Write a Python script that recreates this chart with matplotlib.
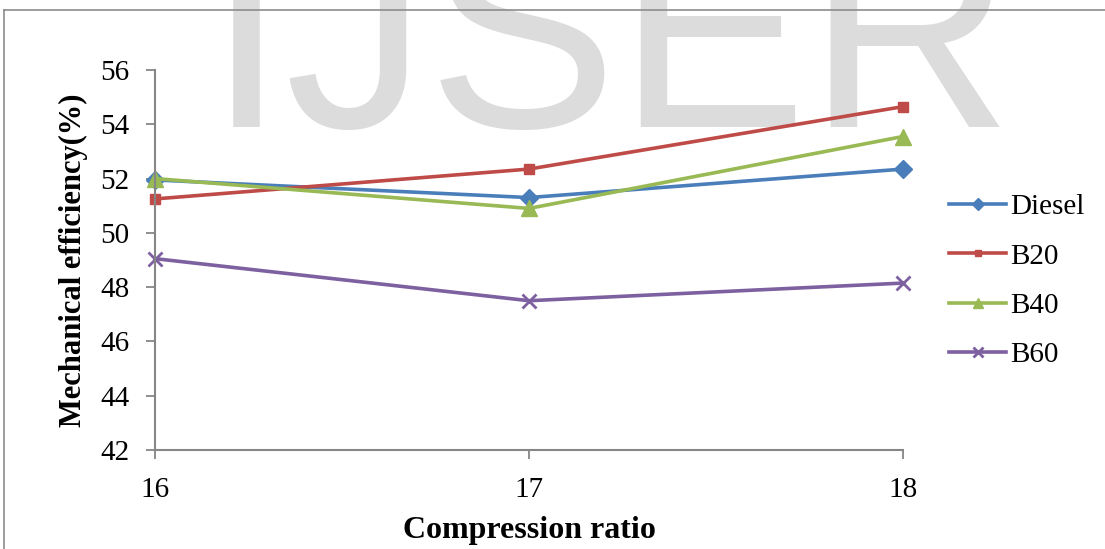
import matplotlib
matplotlib.use("Agg")
import matplotlib.pyplot as plt
from matplotlib.lines import Line2D

# ---- data ----
compression_ratio = [16, 17, 18]
diesel = [51.95, 51.3, 52.35]
b20 = [51.25, 52.35, 54.65]
b40 = [52.0, 50.9, 53.55]
b60 = [49.05, 47.5, 48.15]
series_names = ["Diesel", "B20", "B40", "B60"]
y_ticks = [42, 44, 46, 48, 50, 52, 54, 56]

plt.rcParams['font.family'] = ['Liberation Serif', 'DejaVu Serif']

W, H = 1105, 549
fig = plt.figure(figsize=(W / 100, H / 100), dpi=100)
fig.patch.set_facecolor('white')

# watermark
fig.text(207 / W, 1 - 127 / H, "IJSER", fontsize=205, color='#dcdcdc',
         family='Liberation Sans', ha='left', va='baseline', zorder=-5)

# outer border (chart area frame)
fig.add_artist(Line2D([4 / W, 4 / W], [0, 1 - 10 / H], transform=fig.transFigure,
                      color='#8c8c8c', lw=1.2))
fig.add_artist(Line2D([4 / W, 1], [1 - 10 / H, 1 - 10 / H], transform=fig.transFigure,
                      color='#8c8c8c', lw=1.2))

left, right = 155 / W, 903 / W
bottom, top = 1 - 450 / H, 1 - 70 / H
ax = fig.add_axes([left, bottom, right - left, top - bottom])
ax.patch.set_alpha(0)

styles = [
    dict(color='#4a7ebb', marker='D', markersize=9),
    dict(color='#be4b48', marker='s', markersize=7),
    dict(color='#98b954', marker='^', markersize=11),
    dict(color='#7d60a0', marker='x', markersize=10, markeredgewidth=2),
]
for name, vals, st in zip(series_names, [diesel, b20, b40, b60], styles):
    ax.plot(compression_ratio, vals, lw=2.6, label=name, clip_on=False, **st)

ax.set_xlim(16, 18)
ax.set_ylim(42, 56)
ax.set_xticks(compression_ratio)
ax.set_yticks(y_ticks)
for s in ['top', 'right']:
    ax.spines[s].set_visible(False)
for s in ['left', 'bottom']:
    ax.spines[s].set_color('#868686')
    ax.spines[s].set_linewidth(1.5)
ax.tick_params(axis='y', direction='out', length=6.5, width=1.3, color='#868686',
               labelsize=21, pad=12)
ax.tick_params(axis='x', direction='out', length=6.5, width=1.3, color='#868686',
               labelsize=21, pad=13)

ax.set_xlabel("Compression ratio", fontsize=23, fontweight='bold', labelpad=9)
ax.set_ylabel("Mechanical efficiency(%)", fontsize=22, fontweight='bold', labelpad=9)

leg = ax.legend(loc='center left', bbox_to_anchor=(923 / W, 1 - 281 / H),
                bbox_transform=fig.transFigure, frameon=False, fontsize=21,
                handlelength=1.95, handletextpad=0.15, labelspacing=0.78,
                markerscale=0.7)

fig.savefig("out.png", dpi=100)
